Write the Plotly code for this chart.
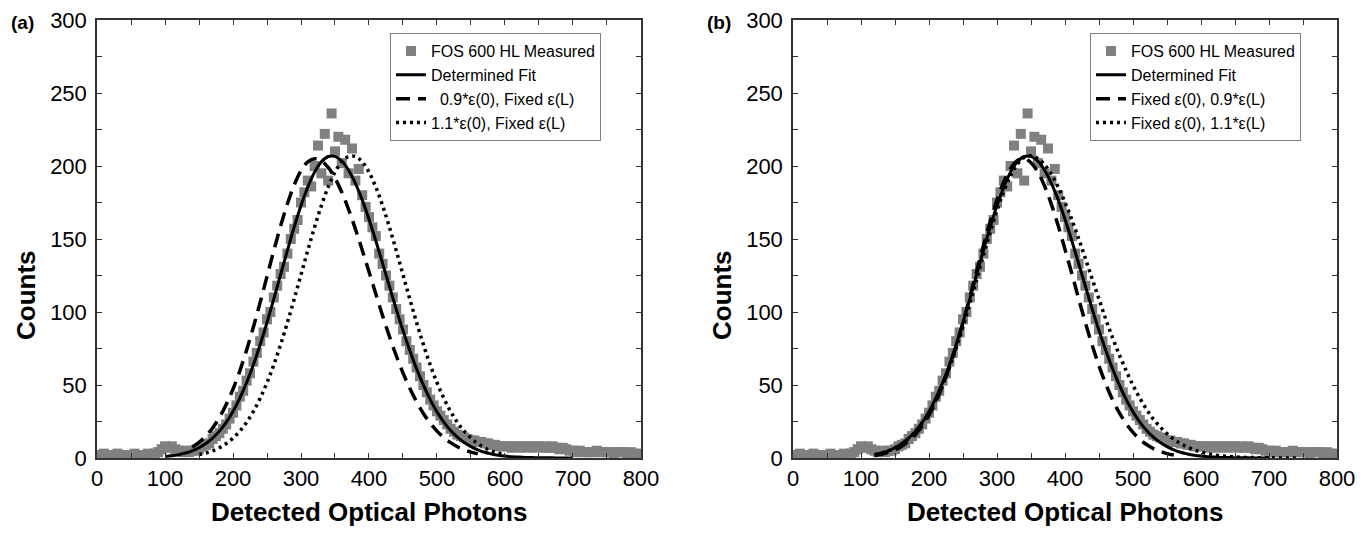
import plotly.graph_objects as go
from plotly.subplots import make_subplots

# Measured histogram (same data in both panels), x step 5 from 0 to 800
meas_x = list(range(0, 805, 5))
meas_y = [2, 2, 3, 2, 2, 2, 3, 2, 2, 2,
          2, 3, 2, 2, 2, 3, 2, 3, 4, 6,
          8, 7, 8, 6, 5, 4, 5, 4, 5, 5,
          6, 8, 9, 10, 13, 15, 17, 20, 23, 27,
          31, 36, 42, 46, 53, 58, 66, 72, 80, 86,
          95, 100, 110, 118, 126, 131, 140, 150, 157, 163,
          175, 182, 190, 186, 200, 214, 195, 222, 190, 236,
          210, 220, 202, 218, 195, 212, 190, 198, 180, 172,
          165, 158, 152, 140, 133, 125, 118, 110, 102, 95,
          88, 80, 74, 68, 62, 56, 50, 45, 40, 36,
          32, 29, 26, 23, 20, 18, 16, 15, 14, 13,
          12, 12, 11, 11, 10, 10, 9, 9, 8, 8,
          8, 8, 7, 8, 8, 7, 8, 8, 7, 8,
          8, 7, 8, 7, 8, 7, 6, 7, 6, 5,
          5, 4, 5, 4, 4, 4, 4, 5, 4, 4,
          4, 4, 3, 4, 4, 4, 3, 4, 3, 3,
          2]

# Determined fit
fit_x = list(range(100, 710, 10))
fit_y = [1.0, 1.5, 2.3, 3.4, 4.9, 7.0, 9.9, 13.6, 18.4, 24.4,
         31.9, 41.0, 51.6, 63.9, 77.7, 92.8, 108.9, 125.6, 142.2, 158.2,
         172.9, 185.6, 195.8, 202.9, 206.5, 206.6, 203.4, 197.1, 188.1, 176.8,
         163.5, 148.8, 133.3, 117.6, 102.0, 87.3, 73.7, 61.1, 49.9, 40.0,
         31.6, 24.6, 18.9, 14.3, 10.6, 7.8, 5.6, 3.9, 2.8, 1.9,
         1.3, 0.9, 0.6, 0.4, 0.3, 0.2, 0.1, 0.1, 0.05, 0.03, 0.02]

# (a) 0.9*e(0), fixed e(L)
dash_a_x = list(range(140, 570, 10))
dash_a_y = [7.5, 10.7, 15.0, 20.6, 27.7, 36.6, 47.2, 59.6, 73.9, 89.7,
            106.7, 124.3, 142.0, 158.9, 174.1, 187.0, 196.8, 202.9, 205.0, 203.5,
            199.0, 191.7, 182.0, 170.2, 156.9, 142.5, 127.6, 112.5, 97.5, 83.3,
            70.2, 58.3, 47.7, 38.5, 30.5, 23.9, 18.4, 14.0, 10.5, 7.7,
            5.6, 4.0, 2.8]

# (a) 1.1*e(0), fixed e(L)
dot_a_x = list(range(150, 610, 10))
dot_a_y = [2.3, 3.4, 4.9, 7.0, 9.9, 13.6, 18.4, 24.4, 31.9, 41.0,
           51.6, 63.9, 77.7, 92.8, 108.9, 125.6, 142.2, 158.2, 172.9, 185.6,
           195.8, 202.9, 206.5, 206.5, 202.9, 195.8, 185.6, 172.9, 158.2, 142.2,
           125.6, 108.9, 92.8, 77.7, 63.9, 51.6, 41.0, 31.9, 24.4, 18.4,
           13.6, 9.9, 7.0, 4.9, 3.4, 2.3]

# (b) fixed e(0), 0.9*e(L)
dash_b_x = list(range(120, 570, 10))
dash_b_y = [1.6, 2.5, 3.8, 5.6, 8.1, 11.5, 16.1, 21.9, 29.4, 38.5,
            49.5, 62.4, 76.9, 93.0, 110.2, 127.9, 145.4, 162.1, 176.9, 189.2,
            198.3, 203.7, 205.0, 202.2, 195.9, 186.2, 173.7, 159.1, 142.9, 126.4,
            109.2, 92.6, 77.2, 63.1, 50.6, 39.8, 30.9, 23.5, 17.5, 12.7,
            9.2, 6.4, 4.5, 3.0, 2.0]

# (b) fixed e(0), 1.1*e(L)
dot_b_x = list(range(120, 750, 10))
dot_b_y = [2.3, 3.4, 4.9, 6.9, 9.7, 13.3, 18.0, 23.8, 31.1, 39.8,
           50.1, 62.0, 75.4, 90.2, 105.9, 122.3, 138.7, 154.7, 169.6, 182.7,
           193.4, 201.3, 205.9, 207.0, 205.2, 200.9, 194.3, 185.6, 175.1, 163.3,
           150.3, 136.6, 122.6, 108.8, 95.0, 82.3, 70.6, 59.8, 49.8, 41.0,
           33.3, 26.6, 21.2, 16.7, 12.9, 9.9, 7.5, 5.6, 4.1, 3.0,
           2.1, 1.5, 1.1, 0.7, 0.5, 0.35, 0.24, 0.16, 0.1, 0.07,
           0.04, 0.03, 0.02]

FONT = 'Liberation Sans, Arial, sans-serif'
GREY = '#808080'
NB = '\u00a0'

fig = make_subplots(rows=1, cols=2)

panels = [
    (1, 'legend', fit_x, fit_y, dash_a_x, dash_a_y, dot_a_x, dot_a_y,
     NB + NB + '0.9*ε(0), Fixed ε(L)', '1.1*ε(0), Fixed ε(L)'),
    (2, 'legend2', fit_x[2:], fit_y[2:], dash_b_x, dash_b_y, dot_b_x, dot_b_y,
     'Fixed ε(0), 0.9*ε(L)', 'Fixed ε(0), 1.1*ε(L)'),
]

for col, leg, fx, fy, dax, day, dox, doy, dash_name, dot_name in panels:
    fig.add_trace(go.Scatter(x=meas_x, y=meas_y, mode='markers', name='FOS 600 HL Measured',
                             marker=dict(symbol='square', size=10, color=GREY), legend=leg),
                  row=1, col=col)
    fig.add_trace(go.Scatter(x=fx, y=fy, mode='lines', name='Determined Fit', line_shape='spline',
                             line=dict(color='black', width=3), legend=leg),
                  row=1, col=col)
    fig.add_trace(go.Scatter(x=dax, y=day, mode='lines', name=dash_name, line_shape='spline',
                             line=dict(color='black', width=3.5, dash='14px,8px'), legend=leg),
                  row=1, col=col)
    fig.add_trace(go.Scatter(x=dox, y=doy, mode='lines', name=dot_name, line_shape='spline',
                             line=dict(color='black', width=3.5, dash='3px,4px'), legend=leg),
                  row=1, col=col)

axis_style = dict(showline=True, linecolor='#333333', linewidth=1.5, mirror='ticks',
                  ticks='inside', ticklen=5, tickwidth=1.2, tickcolor='#333333',
                  showgrid=False, zeroline=False, ticklabeloverflow='allow',
                  tickfont=dict(family=FONT, size=22, color='black'))

fig.update_xaxes(axis_style, range=[0, 800], dtick=100,
                 minor=dict(dtick=50, ticks='inside', ticklen=5, tickcolor='#333333'))
fig.update_yaxes(axis_style, range=[0, 300], dtick=50, ticklabelstandoff=4,
                 minor=dict(dtick=25, ticks='inside', ticklen=5, tickcolor='#333333'))

# page body adds an 8px offset, margins compensate for it
fig.update_layout(
    xaxis=dict(domain=[0, 0.4387]),
    xaxis2=dict(domain=[0.5613, 1]),
    width=1372, height=535,
    margin=dict(l=89, r=43, t=12, b=85, autoexpand=False),
    plot_bgcolor='white', paper_bgcolor='white',
    font=dict(family=FONT, color='black'),
    legend=dict(x=0.2363, y=0.97, xanchor='left', yanchor='top',
                bgcolor='white', bordercolor=GREY, borderwidth=1,
                font=dict(family=FONT, size=16), tracegroupgap=0),
    legend2=dict(x=0.8008, y=0.97, xanchor='left', yanchor='top',
                 bgcolor='white', bordercolor=GREY, borderwidth=1,
                 font=dict(family=FONT, size=16), tracegroupgap=0),
)

# axis titles and panel labels
for xc, ylab_x, lab_x, lab in [(0.2194, -0.0573, -0.0597, '(a)'), (0.7806, 0.504, 0.5016, '(b)')]:
    fig.add_annotation(x=xc, y=-0.123, xref='paper', yref='paper', text='<b>Detected Optical Photons</b>',
                       xanchor='center', yanchor='middle',
                       showarrow=False, font=dict(family=FONT, size=26))
    fig.add_annotation(x=ylab_x, y=0.372, xref='paper', yref='paper', text='<b>Counts</b>', textangle=-90,
                       xanchor='center', yanchor='middle',
                       showarrow=False, font=dict(family=FONT, size=26))
    fig.add_annotation(x=lab_x, y=0.995, xref='paper', yref='paper', text='<b>' + lab + '</b>',
                       xanchor='center', yanchor='middle',
                       showarrow=False, font=dict(family=FONT, size=19))

fig.write_html("out.html")
